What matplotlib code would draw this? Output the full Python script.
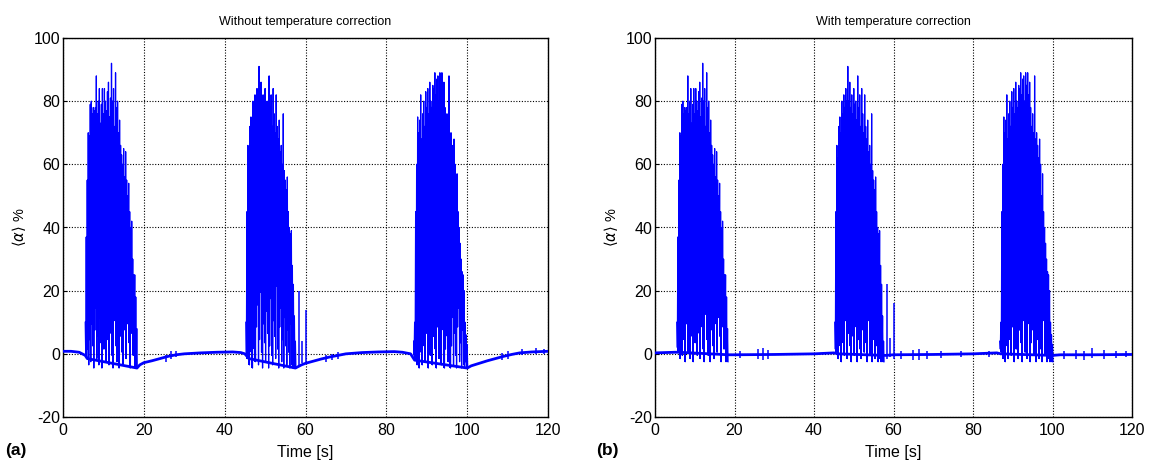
import numpy as np
import matplotlib
matplotlib.use("Agg")
import matplotlib.pyplot as plt

plt.rcParams['font.family'] = ['Liberation Sans', 'DejaVu Sans']
plt.rcParams['mathtext.fontset'] = 'dejavusans'
plt.rcParams['axes.unicode_minus'] = False
plt.rcParams['path.simplify'] = False

# ---------------- data ----------------
titles = ["Without temperature correction", "With temperature correction"]
panel_labels = ["(a)", "(b)"]
x_ticks = [0, 20, 40, 60, 80, 100, 120]
y_ticks = [-20, 0, 20, 40, 60, 80, 100]

burst_dt = 0.25  # spacing between successive spike tops [s]

burst1_t0 = 5.5
burst1_hi = [10, 37, 55, 70, 69, 79, 80, 76, 78, 77, 78, 88, 76, 80, 84, 73, 79, 84,
             76, 84, 80, 77, 83, 86, 75, 81, 92, 80, 84, 72, 89, 78, 80, 70, 74, 66,
             63, 60, 65, 56, 64, 55, 50, 54, 45, 40, 42, 30, 25, 25, 18, 8]
burst1_lo = [0.5, -1, 2, -3, 5, -2, 10, 3, -4, 8, 15, -1, 6, -3, 12, 4, -4, 18,
             2, 9, -2, 14, 5, -3, 20, 7, 0, -4, 11, 25, 3, -2, 9, -4, 16, 6,
             1, -3, 13, 8, -1, 10, 22, 4, -4, 7, 12, 0, 9, -4, -3, -4]

burst2_t0 = 45.25
burst2_hi = [10, 45, 66, 62, 72, 75, 70, 80, 76, 82, 78, 84, 80, 91, 80, 86, 78, 82,
             76, 84, 79, 80, 74, 88, 78, 82, 72, 84, 76, 70, 82, 72, 68, 74, 64, 66,
             60, 76, 58, 55, 52, 56, 45, 40, 38, 39, 28, 22, 12, 4]
burst2_lo = [0, -1, 3, -3, 6, 1, -4, 12, 2, -2, 9, 16, -3, 5, 20, 1, -4, 10,
             4, -2, 14, 7, -4, 3, 18, 0, -3, 11, 6, -1, 22, 2, -4, 9, 15, -2,
             5, -4, 12, 3, -3, 8, 1, -4, 10, -3, -4, -2, -4, -4]

burst3_t0 = 86.75
burst3_hi = [4, 10, 45, 60, 75, 70, 74, 82, 68, 76, 80, 72, 83, 78, 84, 76, 86, 80,
             78, 85, 84, 89, 82, 87, 88, 80, 89, 85, 89, 82, 86, 78, 72, 76, 70, 88,
             68, 70, 66, 62, 68, 60, 50, 57, 45, 40, 35, 30, 26, 25, 20, 10, 6, 3]
burst3_lo = [0, -1, 2, -3, 4, -4, 9, 1, -3, 14, 3, -2, 7, 18, -4, 5, 0, 11,
             -3, 6, 20, 2, -4, 9, 13, -1, 4, -3, 16, 8, -4, 2, 24, 6, -2, 10,
             -4, 3, 12, -3, 7, 0, -4, 9, 15, -2, 4, -4, 8, -3, -4, -2, -4, -4]

bursts_t0 = [burst1_t0, burst2_t0, burst3_t0]
bursts_hi = [burst1_hi, burst2_hi, burst3_hi]
bursts_lo = [burst1_lo, burst2_lo, burst3_lo]
burst_low_offset_a = [-0.5, -0.5, -0.5]
burst_low_offset_b = [1.5, 1.5, 1.5]

# baseline (slow drift) for each panel
base_t_a = [0, 2, 4, 5.5, 6, 18.3, 19, 20, 22, 24, 26, 28, 30, 34, 38, 42, 44, 45,
            46, 57.5, 59, 60, 62, 64, 66, 68, 70, 74, 78, 82, 84, 86, 87, 100, 101,
            103, 105, 107, 109, 111, 113, 116, 120]
base_v_a = [0.8, 0.8, 0.5, -0.5, -1.5, -4.5, -3.5, -2.8, -2.2, -1.5, -0.8, -0.3, 0.0,
            0.3, 0.5, 0.6, 0.4, 0.0, -1.5, -4.5, -3.5, -3.0, -2.3, -1.6, -1.0, -0.5,
            0.0, 0.4, 0.6, 0.7, 0.5, 0.0, -2.0, -4.5, -3.8, -3.0, -2.2, -1.5, -0.8,
            -0.2, 0.3, 0.6, 0.8]
base_t_b = [0, 5, 6, 18.5, 20, 30, 40, 45, 46, 58, 60, 70, 80, 86, 87, 100, 102,
            110, 120]
base_v_b = [0.3, 0.5, 0.5, -0.3, -0.3, -0.2, 0.0, 0.3, 0.0, -0.5, -0.3, -0.2, 0.0,
            0.3, 0.0, -0.5, -0.3, -0.3, -0.2]

# short isolated spikes (time, top, bottom)
spike_t_a = [25.5, 26.8, 28.0, 58.5, 59.2, 60.0, 65.0, 66.5, 68.0, 108.5, 110.0,
             113.5, 117.0, 119.0]
spike_top_a = [-0.5, 0.8, 1.0, 20, 4, 14, -0.5, -0.2, 0.5, 0.2, 1.0, 1.5, 1.8, 1.5]
spike_bot_a = [-2.5, -1.5, -1.0, -4, -3, -3, -2.5, -2.0, -1.5, -2.0, -1.5, -0.5, 0.0, 0.0]
spike_t_b = [21.5, 26.0, 27.2, 28.5, 58.3, 59.0, 60.0, 62.0, 65.0, 66.5, 68.5, 72.0,
             77.0, 84.0, 103.0, 106.0, 108.0, 110.0, 113.0, 116.0, 118.5]
spike_top_b = [0.8, 1.5, 1.8, 1.2, 22, 5, 16, 1.0, 1.2, 1.5, 1.0, 0.8, 0.8, 0.8,
               1.0, 1.2, 1.0, 1.8, 1.2, 1.0, 1.0]
spike_bot_b = [-1.2, -1.5, -1.8, -1.5, -1.5, -1.0, -1.5, -1.5, -2.0, -2.0, -1.5, -1.2,
               -1.0, -1.0, -1.5, -1.5, -1.8, -1.2, -1.5, -1.2, -1.0]

line_color = '#0000ff'


def burst_series(t0, hi, lo, off):
    n = min(len(hi), len(lo))
    t = t0 + np.arange(2 * n) * burst_dt / 2.0
    y = np.empty(2 * n)
    y[0::2] = np.asarray(hi[:n], float)
    y[1::2] = np.asarray(lo[:n], float) + off
    return t, y


fig = plt.figure(figsize=(11.57, 4.63), dpi=100)
ax_a = fig.add_axes([63 / 1157, 46 / 463, (548 - 63) / 1157, 379 / 463])
ax_b = fig.add_axes([655 / 1157, 46 / 463, (1132 - 655) / 1157, 379 / 463])

panels = [
    (ax_a, base_t_a, base_v_a, spike_t_a, spike_top_a, spike_bot_a, burst_low_offset_a),
    (ax_b, base_t_b, base_v_b, spike_t_b, spike_top_b, spike_bot_b, burst_low_offset_b),
]

for i, (ax, bt, bv, st, stop, sbot, offs) in enumerate(panels):
    ax.plot(bt, bv, color=line_color, lw=2.0, solid_joinstyle='round', zorder=3)
    ax.vlines(st, sbot, stop, color=line_color, lw=1.1, zorder=3)
    for t0, hi, lo, off in zip(bursts_t0, bursts_hi, bursts_lo, offs):
        t, y = burst_series(t0, hi, lo, off)
        n = min(len(hi), len(lo))
        lows = np.asarray(lo[:n], float) + off
        # the band swept by each oscillation (trough to top of every sample)
        ax.fill_between(t[0::2], lows, np.asarray(hi[:n], float), step='mid',
                        color=line_color, lw=0, zorder=3)
        ax.plot(t, y, color=line_color, lw=0.9, zorder=3)

    ax.set_xlim(0, 120)
    ax.set_ylim(-20, 100)
    ax.set_xticks(x_ticks)
    ax.set_yticks(y_ticks)
    ax.tick_params(direction='in', length=3, width=0.8, labelsize=11.5, pad=2,
                   top=False, right=False)
    ax.tick_params(axis='x', length=0, pad=4)
    ax.grid(True, color='black', linestyle=(0, (1, 1.5)), linewidth=0.8)
    ax.set_axisbelow(True)
    for sp in ax.spines.values():
        sp.set_linewidth(1.0)
        sp.set_color('black')
    ax.set_title(titles[i], fontsize=9, pad=9)
    ax.set_xlabel("Time [s]", fontsize=11.5, labelpad=5)
    ax.set_ylabel(r"$\langle\alpha\rangle$ %", fontsize=10.5, labelpad=4)

fig.text(5 / 1157, 1 - 450 / 463, panel_labels[0], fontsize=12.5, fontweight='bold',
         ha='left', va='center')
fig.text(596 / 1157, 1 - 450 / 463, panel_labels[1], fontsize=12.5, fontweight='bold',
         ha='left', va='center')

fig.savefig("out.png", dpi=100)
